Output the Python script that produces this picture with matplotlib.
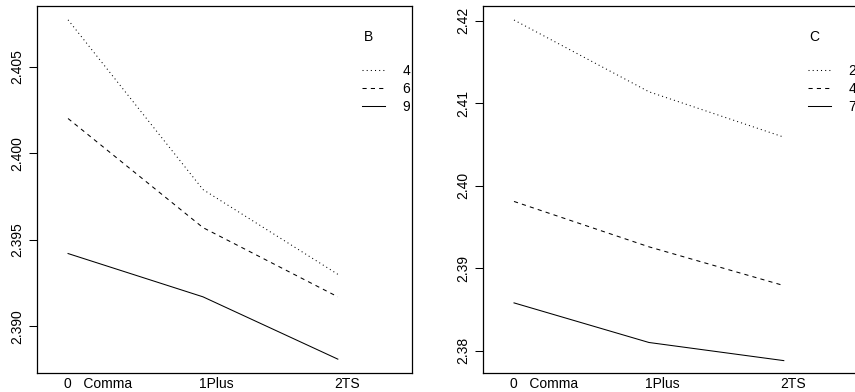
import matplotlib
matplotlib.use("Agg")
import matplotlib.pyplot as plt
import matplotlib.transforms as mtransforms

plt.rcParams['font.family'] = ['Liberation Sans', 'DejaVu Sans']
plt.rcParams['font.size'] = 10

# x levels (shared)
niveles = ['0   Comma', '1Plus', '2TS']
pos = [1, 2, 3]

# panel izquierdo: factor B
b_niveles = ['4', '6', '9']
b_4 = [2.4077, 2.3979, 2.3930]
b_6 = [2.4020, 2.3957, 2.3917]
b_9 = [2.3942, 2.3917, 2.3881]
b_ticks = [2.390, 2.395, 2.400, 2.405]

# panel derecho: factor C
c_niveles = ['2', '4', '7']
c_2 = [2.4201, 2.4114, 2.4059]
c_4 = [2.3981, 2.3926, 2.3879]
c_7 = [2.3858, 2.3810, 2.3788]
c_ticks = [2.38, 2.39, 2.40, 2.41, 2.42]

estilos = [(0, (1, 3)), (0, (4, 4)), '-']

fig = plt.figure(figsize=(8.55, 3.92), dpi=100)
ax1 = fig.add_axes([0.0433, 0.0485, 0.4386, 0.9362])
ax2 = fig.add_axes([0.5649, 0.0485, 0.4386, 0.9362])


def panel(ax, series, nombres, titulo, ticks, fmt, ylim):
    for ys, ls, nm in zip(series, estilos, nombres):
        ax.plot(pos, ys, color='black', lw=0.75, linestyle=ls, label=nm)
    ax.set_xlim(0.77, 3.55)
    ax.set_ylim(*ylim)
    ax.set_xticks(pos)
    ax.set_xticklabels(niveles)
    ax.tick_params(axis='x', length=0, pad=3)
    off = mtransforms.ScaledTranslation(-2.6 / 72, 0, fig.dpi_scale_trans)
    for lab in ax.get_xticklabels():
        lab.set_horizontalalignment('left')
        lab.set_transform(lab.get_transform() + off)
    ax.set_yticks(ticks)
    ax.set_yticklabels([fmt % t for t in ticks], rotation=90, va='center')
    ax.tick_params(axis='y', length=5.5, width=0.75, pad=4)
    for s in ax.spines.values():
        s.set_linewidth(0.9)
    # leyenda estilo R
    ax.text(0.871, 0.9155, titulo, transform=ax.transAxes, ha='left', va='center')
    ax.legend(loc='upper left', bbox_to_anchor=(0.866, 0.841), frameon=False,
              handlelength=1.65, handletextpad=1.3, labelspacing=0.26,
              borderpad=0, borderaxespad=0)


panel(ax1, [b_4, b_6, b_9], b_niveles, 'B', b_ticks, '%.3f', (2.3873, 2.4085))
panel(ax2, [c_2, c_4, c_7], c_niveles, 'C', c_ticks, '%.2f', (2.3773, 2.4218))

fig.savefig('out.png', dpi=100)
